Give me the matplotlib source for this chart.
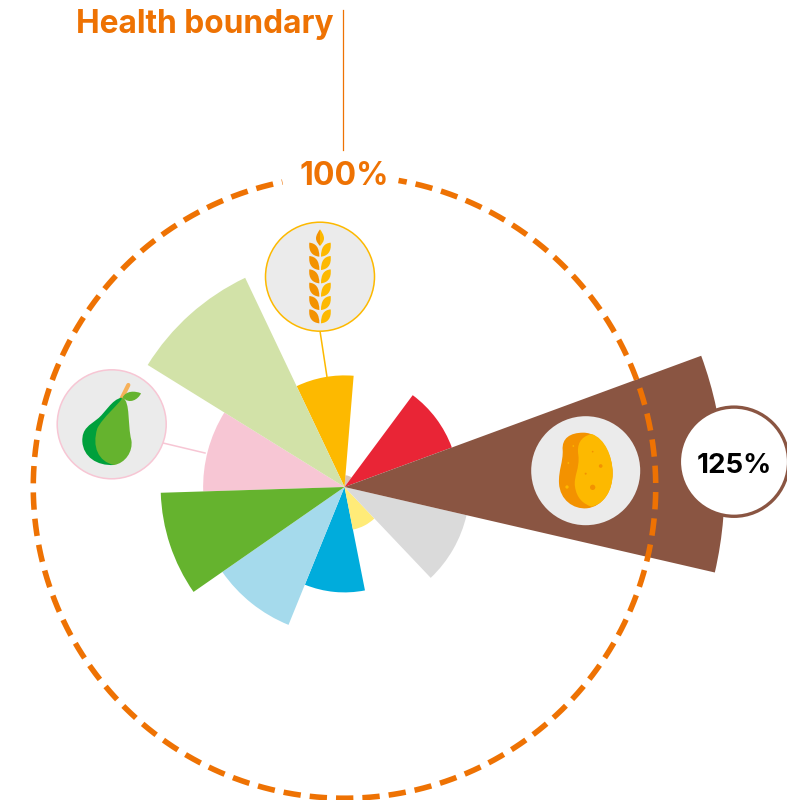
import numpy as np
import matplotlib
matplotlib.use("Agg")
import matplotlib.pyplot as plt
from matplotlib.patches import Circle, PathPatch
from matplotlib.path import Path

# wedges, counter clockwise from the brown one. angles in degrees, size in % of the boundary
names = ["Starchy roots", "Red meat", "Other", "Grains", "Vegetables", "Fruit",
         "Legumes", "Nuts", "Fish", "Oils", "Dairy"]
start_deg = [-13.0, 20.2, 53.4, 85.3, 115.4, 148.2, 181.8, 214.8, 247.9, 281.2, 313.5]
end_deg = [20.2, 53.4, 85.3, 115.4, 148.2, 181.8, 214.8, 247.9, 281.2, 313.5, 347.0]
values = [122.6, 36.9, 3.8, 36.0, 74.7, 45.6, 59.3, 48.0, 34.0, 14.0, 40.4]
colors = ["#8A5542", "#E92536", "#D9C3B6", "#FDB900", "#D2E2A8", "#F7C6D4",
          "#65B32E", "#A5DAEC", "#00ACDC", "#FFEB78", "#DADADA"]
draw_order = [2, 1, 3, 5, 4, 8, 7, 6, 9, 10, 0]

ORANGE = "#EE7203"
FONT = "Inter"
W, H = 787, 800
CX, CY = 344.5, 487
PX_PER_PCT = 3.1
RMAX = 450

plt.rcParams["lines.scale_dashes"] = False
fig = plt.figure(figsize=(W / 100, H / 100), dpi=100, facecolor="white")

ax = fig.add_axes([(CX - RMAX) / W, (H - CY - RMAX) / H, 2 * RMAX / W, 2 * RMAX / H],
                  projection="polar")
ax.set_ylim(0, RMAX / PX_PER_PCT)
ax.axis("off")

for i in draw_order:
    a0, a1 = np.radians(start_deg[i]), np.radians(end_deg[i])
    ax.bar((a0 + a1) / 2, values[i], width=a1 - a0, color=colors[i], linewidth=0, zorder=2)

# boundary ring, from right of the 100% label clockwise round to the left of it
th = np.radians(np.linspace(80, 101.5 - 360, 720))
ax.plot(th, np.full_like(th, 100.4), color=ORANGE, lw=4.0, zorder=3,
        linestyle=(6.5, (12.5, 6.5)), dash_capstyle="butt")

# overlay in pixel coordinates for labels and icons
ov = fig.add_axes([0, 0, 1, 1], facecolor="none")
ov.set_xlim(0, W)
ov.set_ylim(H, 0)
ov.axis("off")


def shape(pts, ox, oy, color, z=6, s=1 / 3):
    # pts: start point then cubic triples, given in zoomed px
    verts = [(ox + x * s, oy + y * s) for x, y in pts]
    codes = [Path.MOVETO] + [Path.CURVE4] * (len(pts) - 1)
    ov.add_patch(PathPatch(Path(verts, codes), fc=color, ec="none", zorder=z))


ov.text(334, 33.5, "Health boundary", color=ORANGE, fontsize=22.8, fontweight="bold",
        family=FONT, ha="right", va="baseline")
ov.plot([343.3, 343.3], [10, 150], color=ORANGE, lw=0.9, zorder=3)
ov.text(344, 185, "100%", color=ORANGE, fontsize=23, fontweight="bold", family=FONT,
        ha="center", va="baseline")

# grain icon
ov.plot([320, 327], [331, 377], color="#FDB900", lw=1.1, zorder=4)
ov.add_patch(Circle((320, 276.7), 54.5, fc="#EBEBEB", ec="#FDB900", lw=1.1, zorder=5))
gx, gy = 250, 210
shape([(210, 58), (205, 65), (198, 75), (198, 85), (198, 95), (205, 102), (210, 108),
       (210, 90), (210, 75), (210, 58)], gx, gy, "#F39200")
shape([(210, 58), (215, 65), (222, 75), (222, 85), (222, 95), (215, 102), (210, 108),
       (210, 90), (210, 75), (210, 58)], gx, gy, "#FDB900")
for r in range(6):
    y = 98 + 40 * r
    shape([(178, y), (198, y + 2), (208, y + 15), (208, y + 42),
           (188, y + 40), (175, y + 28), (178, y)], gx, gy, "#F39200")
    shape([(242, y), (222, y + 2), (213, y + 15), (213, y + 42),
           (232, y + 40), (245, y + 28), (242, y)], gx, gy, "#FDB900")

# fruit icon
ov.plot([163, 205], [443, 453], color="#F7C6D4", lw=1.1, zorder=4)
ov.add_patch(Circle((111.7, 424.3), 54.5, fc="#EBEBEB", ec="#F7C6D4", lw=1.1, zorder=5))
px, py = 40, 360
ov.plot([px + 245 / 3, px + 265 / 3], [py + 115 / 3, py + 75 / 3], color="#F7B15A", lw=3,
        solid_capstyle="round", zorder=6)
shape([(245, 113), (215, 118), (195, 160), (172, 177), (150, 195), (125, 205), (127, 245),
       (130, 290), (170, 318), (222, 315), (250, 250), (260, 180), (245, 113)], px, py, "#00A03C")
shape([(248, 113), (230, 140), (190, 170), (172, 205), (155, 260), (175, 305), (222, 315),
       (255, 310), (280, 275), (274, 240), (262, 195), (272, 125), (248, 113)], px, py, "#65B32E")
shape([(248, 112), (258, 92), (285, 92), (303, 100), (295, 118), (268, 135), (248, 112)],
      px, py, "#65B32E")

# starchy roots icon
ov.add_patch(Circle((585.7, 470.7), 54.5, fc="#EBEBEB", ec="none", zorder=5))
sx, sy = 520, 340
shape([(190, 278), (150, 278), (125, 295), (128, 330), (130, 365), (115, 390), (117, 430),
       (120, 480), (160, 508), (200, 505), (250, 500), (278, 450), (278, 400),
       (278, 345), (245, 278), (190, 278)], sx, sy, "#F39200")
shape([(215, 282), (180, 290), (170, 315), (175, 345), (180, 385), (160, 410), (165, 440),
       (170, 475), (190, 492), (215, 500), (255, 490), (278, 450), (278, 400),
       (278, 350), (255, 295), (215, 282)], sx, sy, "#FDB900")
for x, y, r, c in [(160, 318, 2.5, "#FDB900"), (145, 369, 2.5, "#FDB900"), (141, 441, 5, "#FDB900"),
                   (218, 335, 2.5, "#F39200"), (242, 378, 5.5, "#F39200"), (197, 401, 3, "#F39200"),
                   (218, 442, 8, "#F39200")]:
    ov.add_patch(Circle((sx + x / 3, sy + y / 3), r / 3, fc=c, ec="none", zorder=7))

# value badge
ov.add_patch(Circle((734, 461.7), 54.6, fc="white", ec="#8A5542", lw=2.4, zorder=5))
ov.text(734, 473.3, "125%", color="black", fontsize=20, fontweight="bold", family=FONT,
        ha="center", va="baseline", zorder=6)

fig.savefig("out.png", dpi=100, facecolor="white")
